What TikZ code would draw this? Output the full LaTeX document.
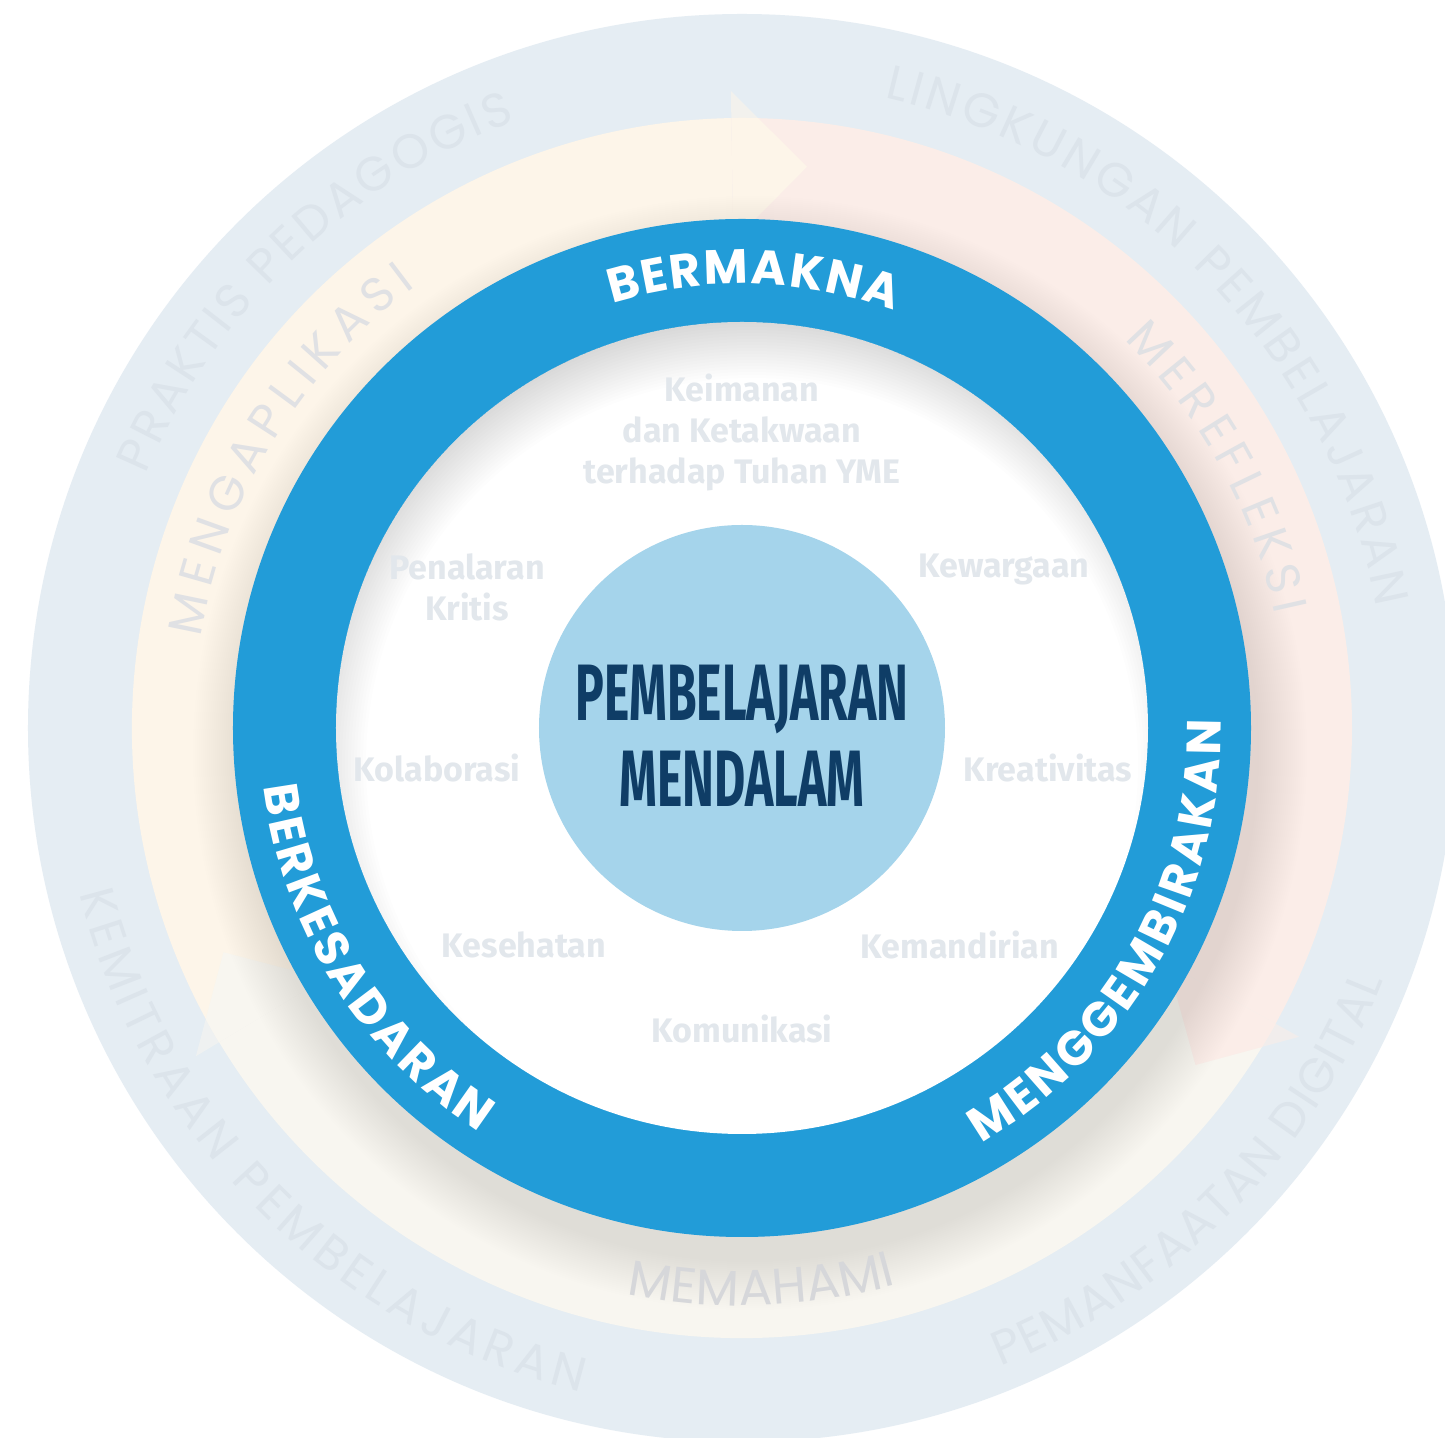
\documentclass[tikz,border=0pt]{standalone}
\usepackage{fontspec}
\usetikzlibrary{decorations.text}
\newfontfamily\ringfont{Poppins}
\newfontfamily\smallfont{Fira Sans}
\newfontfamily\titlefont[FakeStretch=0.6]{Fira Sans}
\definecolor{outerring}{HTML}{E5EDF3}
\definecolor{creamseg}{HTML}{FDF5E9}
\definecolor{pinkseg}{HTML}{FBEDE8}
\definecolor{paleseg}{HTML}{F8F6F0}
\definecolor{ringblue}{HTML}{229CD8}
\definecolor{corefill}{HTML}{A5D4EB}
\definecolor{navytext}{HTML}{0F3D66}
\definecolor{softgrey}{HTML}{E2E7EC}
\definecolor{outertext}{HTML}{DCE4EB}
\definecolor{midtext}{HTML}{E0E1E4}
\tikzset{
  softtext/.style={font=\smallfont\bfseries\fontsize{17}{20.5}\selectfont, text=softgrey, align=center, inner sep=0pt},
  titletext/.style={font=\titlefont\bfseries\fontsize{40}{40}\selectfont, text=navytext, inner sep=0pt},
}
\begin{document}
\begin{tikzpicture}[x=0.5pt, y=0.5pt]
\useasboundingbox[fill=white] (-742,-710) rectangle (703,728);
% outer ring
\fill[outerring] (0,0) circle[radius=714];
% middle ring in three arrows
\fill[creamseg] (211:610) arc[start angle=211, end angle=91, radius=610] -- (91:509) arc[start angle=91, end angle=211, radius=509] -- cycle;
\fill[pinkseg] (91:610) arc[start angle=91, end angle=-29, radius=610] -- (-29:509) arc[start angle=-29, end angle=91, radius=509] -- cycle;
\fill[paleseg] (-29:610) arc[start angle=-29, end angle=-149, radius=610] -- (-149:509) arc[start angle=-149, end angle=-29, radius=509] -- cycle;
\foreach \a/\c in {91/creamseg, -29/pinkseg, 211/paleseg}
  \fill[\c, opacity=0.55] (\a:637) -- (\a-7.6:565) -- (\a:487) -- cycle;
\begin{scope}
  \clip (0,0) circle[radius=610];
  \foreach \a/\c in {91/creamseg, -29/pinkseg, 211/paleseg}
    \fill[\c] (\a:637) -- (\a-7.6:565) -- (\a:487) -- cycle;
\end{scope}
% outer ring texts
\path[decorate, decoration={text along path, text align=fit to path, text color=outertext,
  text={|\ringfont\fontsize{24}{28}\selectfont|PRAKTIS PEDAGOGIS}}]
  (157:648) arc[start angle=157, end angle=110.5, radius=648];
\path[decorate, decoration={text along path, text align=fit to path, text color=outertext,
  text={|\ringfont\fontsize{24}{28}\selectfont|LINGKUNGAN PEMBELAJARAN}}]
  (77.3:646) arc[start angle=77.3, end angle=10.8, radius=646];
\path[decorate, decoration={text along path, text align=fit to path, text color=outertext,
  text={|\ringfont\fontsize{24}{28}\selectfont|PEMANFAATAN DIGITAL}}]
  (-68:689) arc[start angle=-68, end angle=-21.5, radius=689];
\path[decorate, decoration={text along path, text align=fit to path, text color=outertext,
  text={|\ringfont\fontsize{24}{28}\selectfont|KEMITRAAN PEMBELAJARAN}}]
  (194:683) arc[start angle=194, end angle=256.3, radius=683];
% drop shadow of the blue ring
\foreach \k in {0,...,24}
  \fill[black, opacity=0.0055] (8,-25) circle[radius=509+2*\k];
% middle ring texts
\path[decorate, decoration={text along path, text align=fit to path, text color=midtext,
  text={|\ringfont\fontsize{24}{28}\selectfont|MENGAPLIKASI}}]
  (170.5:549) arc[start angle=170.5, end angle=126.5, radius=549];
\path[decorate, decoration={text along path, text align=fit to path, text color=midtext,
  text={|\ringfont\fontsize{24}{28}\selectfont|MEREFLEKSI}}]
  (45.5:545) arc[start angle=45.5, end angle=12, radius=545];
\path[decorate, decoration={text along path, text align=fit to path, text color=midtext!90!gray,
  text={|\ringfont\fontsize{25}{28}\selectfont|MEMAHAMI}}]
  (-101.5:577.5) arc[start angle=-101.5, end angle=-74.5, radius=577.5];
% blue ring
\fill[ringblue] (0,0) circle[radius=509];
\fill[white] (0,0) circle[radius=406];
\begin{scope}
  \clip (0,0) circle[radius=406];
  \foreach \k in {1,...,20}
    \fill[black, opacity=0.0095, even odd rule] (0,0) circle[radius=420] (10,-36) circle[radius=446-3*\k];
\end{scope}
\path[decorate, decoration={text along path, text align=fit to path, text color=white,
  text={|\ringfont\bfseries\fontsize{24}{28}\selectfont|BERMAKNA}}]
  (107:444) arc[start angle=107, end angle=70, radius=444];
\path[decorate, decoration={text along path, text align=fit to path, text color=white,
  text={|\ringfont\bfseries\fontsize{24}{28}\selectfont|BERKESADARAN}}]
  (187:482) arc[start angle=187, end angle=237, radius=482];
\path[decorate, decoration={text along path, text align=fit to path, text color=white,
  text={|\ringfont\bfseries\fontsize{24}{28}\selectfont|MENGGEMBIRAKAN}}]
  (-60:479) arc[start angle=-60, end angle=1, radius=479];
% core
\fill[corefill] (0,0) circle[radius=203];
\node[titletext] (title1) at (0,28.5) {PEMBELAJARAN};
\node[titletext] (title2) at (0,-50.5) {MENDALAM};
% profile dimensions
\node[softtext] (iman) at (0,296) {Keimanan\\dan Ketakwaan\\terhadap Tuhan YME};
\node[softtext] (nalar) at (-275,140.5) {Penalaran\\Kritis};
\node[softtext] (warga) at (262,158.5) {Kewargaan};
\node[softtext] (kolab) at (-305,-40) {Kolaborasi};
\node[softtext] (kreatif) at (306,-40) {Kreativitas};
\node[softtext] (sehat) at (-218,-217) {Kesehatan};
\node[softtext] (mandiri) at (218,-217) {Kemandirian};
\node[softtext] (komun) at (0,-301) {Komunikasi};
\end{tikzpicture}
\end{document}
